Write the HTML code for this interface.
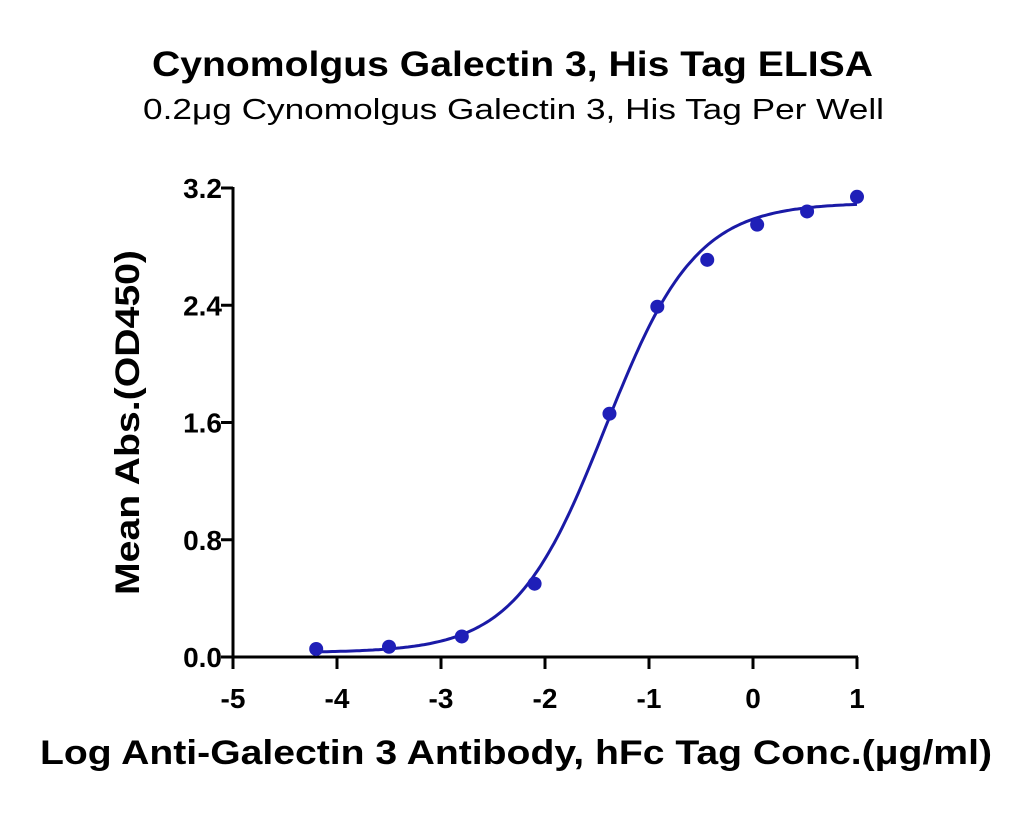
<!DOCTYPE html>
<html><head><meta charset="utf-8"><style>
html,body{margin:0;padding:0;background:#fff;}
svg text{font-family:"Liberation Sans",Arial,sans-serif;}
</style></head><body>
<svg id="chart" width="1030" height="815" viewBox="0 0 1030 815">
<text x="152" y="76" textLength="721" lengthAdjust="spacingAndGlyphs" font-size="35" font-weight="bold">Cynomolgus Galectin 3, His Tag ELISA</text>
<text x="143" y="119" textLength="741" lengthAdjust="spacingAndGlyphs" font-size="29">0.2μg Cynomolgus Galectin 3, His Tag Per Well</text>
<text transform="translate(139,595) rotate(-90)" textLength="345" lengthAdjust="spacingAndGlyphs" font-size="34" font-weight="bold">Mean Abs.(OD450)</text>
<text x="40" y="764" textLength="952" lengthAdjust="spacingAndGlyphs" font-size="34" font-weight="bold">Log Anti-Galectin 3 Antibody, hFc Tag Conc.(μg/ml)</text>
<g id="axes"></g>
<g id="marks"></g>
</svg>
<script>
const xTicks=[-5,-4,-3,-2,-1,0,1];
const yTicks=[0.0,0.8,1.6,2.4,3.2];
const yTickLabels=["0.0","0.8","1.6","2.4","3.2"];
const xVals=[-4.2,-3.5,-2.8,-2.1,-1.38,-0.92,-0.44,0.04,0.52,1.0];
const yVals=[0.055,0.07,0.14,0.5,1.66,2.39,2.71,2.95,3.04,3.14];
const fitBottom=0.03, fitTop=3.1, fitLogEC50=-1.42, fitHill=1.0;

const X0=233,X1=857,Y0=657,Y1=188;
const sx=v=>X0+(v-(-5))/(1-(-5))*(X1-X0);
const sy=v=>Y0-(v-0)/(3.2-0)*(Y0-Y1);
const NS="http://www.w3.org/2000/svg";
const axes=document.getElementById('axes'), marks=document.getElementById('marks');
function mk(tag,attrs,parent){const e=document.createElementNS(NS,tag);for(const k in attrs)e.setAttribute(k,attrs[k]);parent.appendChild(e);return e;}

let e=mk('line',{x1:X0,y1:Y1-1,x2:X0,y2:Y0+1,stroke:'#000','stroke-width':3},axes);


e=mk('line',{x1:X0-1,y1:Y0,x2:X1+1,y2:Y0,stroke:'#000','stroke-width':3},axes);


yTicks.forEach((v,i)=>{
  const t=mk('line',{x1:X0-12,y1:sy(v),x2:X0,y2:sy(v),stroke:'#000','stroke-width':3},axes);
  
  
  const l=mk('text',{x:X0-11,y:sy(v)+10,'text-anchor':'end','font-size':28,'font-weight':'bold'},axes);
  l.textContent=yTickLabels[i];
  
  
});
xTicks.forEach(v=>{
  const t=mk('line',{x1:sx(v),y1:Y0,x2:sx(v),y2:Y0+12,stroke:'#000','stroke-width':3},axes);
  
  
  const l=mk('text',{x:sx(v),y:Y0+51,'text-anchor':'middle','font-size':28,'font-weight':'bold'},axes);
  l.textContent=String(v);
  
  
});
const fit=x=>fitBottom+(fitTop-fitBottom)/(1+Math.pow(10,(fitLogEC50-x)*fitHill));
let d='';
const xa=xVals[0], xb=xVals[xVals.length-1];
for(let i=0;i<=200;i++){const x=xa+(xb-xa)*i/200;d+=(i?'L':'M')+sx(x).toFixed(1)+','+sy(fit(x)).toFixed(1);}
const p=mk('path',{d:d,fill:'none',stroke:'#1a1aa6','stroke-width':3},marks);


xVals.forEach((x,i)=>{
  const c=mk('circle',{cx:sx(x),cy:sy(yVals[i]),r:7,fill:'#1f1fb8'},marks);
  
  
});
</script>
</body></html>
